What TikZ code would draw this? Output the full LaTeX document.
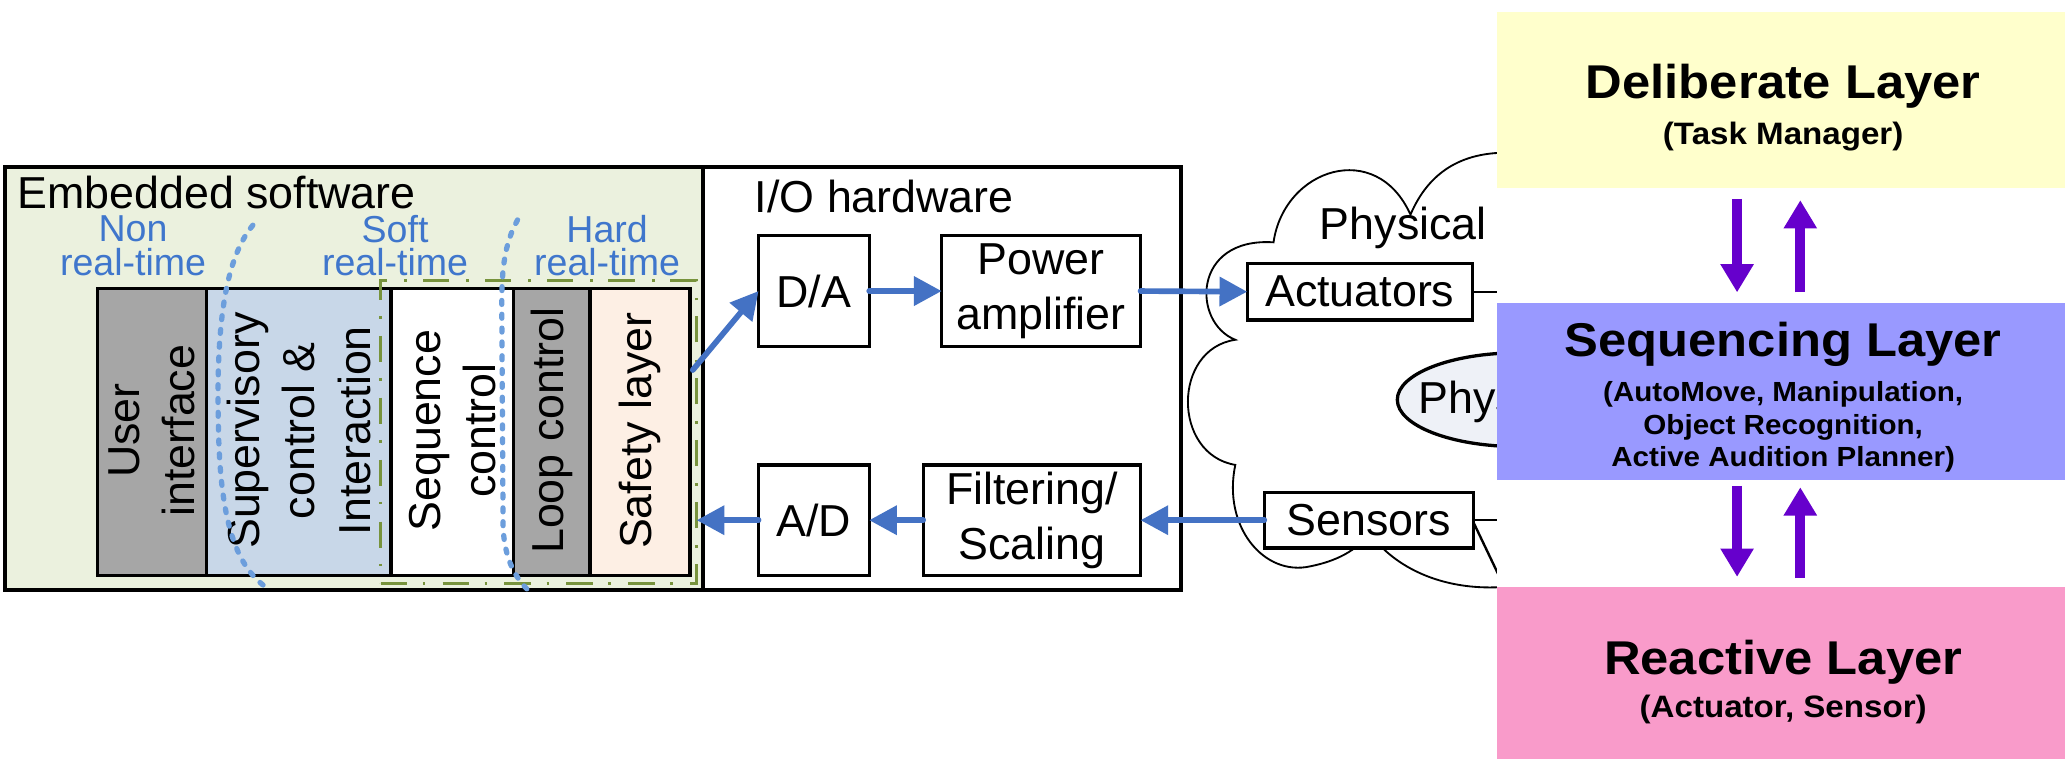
\documentclass[tikz,border=0pt]{standalone}
\usepackage{fontspec}
\setmainfont{Liberation Sans}
\newfontfamily\rpfont[FakeStretch=1.07]{Liberation Sans}
\usetikzlibrary{arrows.meta,calc}
\definecolor{embfill}{HTML}{EBF1DE}
\definecolor{stripgray}{HTML}{A6A6A6}
\definecolor{supfill}{HTML}{C8D7E8}
\definecolor{safefill}{HTML}{FDEFE4}
\definecolor{labelblue}{HTML}{3F76CC}
\definecolor{arrowblue}{HTML}{4472C4}
\definecolor{dotblue}{HTML}{6C9EDC}
\definecolor{hardgreen}{HTML}{77933C}
\definecolor{ellfill}{HTML}{EEF1F7}
\definecolor{delibfill}{HTML}{FFFFCC}
\definecolor{seqfill}{HTML}{9999FF}
\definecolor{reafill}{HTML}{F99BCA}
\definecolor{arrowpurple}{HTML}{6600CC}
\newcommand{\fntL}{\fontsize{34}{42}\selectfont}
\newcommand{\fntBlue}{\fontsize{28.5}{25.5}\selectfont}
\newcommand{\fntTitle}{\rpfont\bfseries\fontsize{36}{40}\selectfont}
\newcommand{\fntSub}{\rpfont\bfseries\fontsize{23.5}{26}\selectfont}
\newcommand{\fntSmall}{\rpfont\bfseries\fontsize{21}{24.5}\selectfont}
\begin{document}
\begin{tikzpicture}[x=1pt,y=-1pt,
  frame/.style={draw=black, line width=2.8pt, inner sep=0pt, outer sep=0pt},
  strip/.style={draw=black, line width=2.5pt, inner sep=0pt, outer sep=0pt, minimum height=218pt},
  striptext/.style={rotate=90, align=center, font=\fntL, inner sep=0pt},
  iobox/.style={draw=black, line width=2.5pt, fill=white, inner sep=0pt, outer sep=0pt, align=center, font=\fntL, minimum height=84pt},
  plaintext/.style={anchor=base west, font=\fntL, inner sep=0pt},
  bluelbl/.style={text=labelblue, align=center, font=\fntBlue, inner sep=0pt},
  barrow/.style={draw=arrowblue, line width=4.3pt, line cap=round, -{Triangle[length=21pt,width=21.5pt]}},
  rtline/.style={draw=dotblue, line width=4pt, line cap=round, dash pattern=on 3pt off 7.5pt},
  hardbox/.style={draw=hardgreen, line width=2.5pt, dash pattern=on 20pt off 12pt on 2pt off 13pt, inner sep=0pt, outer sep=0pt, minimum width=240pt, minimum height=230pt},
  cloudline/.style={draw=black, line width=1.4pt},
  stub/.style={draw=black, line width=1.8pt},
  layer/.style={inner sep=0pt, outer sep=0pt, minimum width=431pt},
  parrow/.style={draw=arrowpurple, line width=7.6pt, -{Triangle[length=21.5pt,width=24pt]}},
  ltitle/.style={anchor=base, font=\fntTitle, inner sep=0pt},
  lsub/.style={anchor=base, font=\fntSub, inner sep=0pt},
  lsmall/.style={anchor=base, font=\fntSmall, inner sep=0pt}
]
\fill[white] (0,0) rectangle (1568,576);
\useasboundingbox (0,0) rectangle (1568,576);

% outer boxes
\node[frame, fill=embfill, minimum width=530pt, minimum height=321pt] (emb) at (269,287.5) {};
\node[frame, fill=white, minimum width=363pt, minimum height=321pt] (io) at (715.5,287.5) {};
\node[plaintext] (embl) at (13,158) {Embedded software};
\node[plaintext] (iol) at (573,161) {I/O hardware};

% real-time labels
\node[bluelbl] (nonrt) at (101,186.5) {Non\\real-time};
\node[bluelbl] (softrt) at (300,186.5) {Soft\\real-time};
\node[bluelbl] (hardrt) at (461,186.5) {Hard\\real-time};

% software strips
\node[strip, fill=stripgray, minimum width=83pt] (ui) at (115.5,328) {};
\node[strip, fill=supfill, minimum width=140pt] (sup) at (227,328) {};
\node[strip, fill=white, minimum width=93pt] (seq) at (343.5,328) {};
\node[strip, fill=stripgray, minimum width=58pt] (loop) at (419,328) {};
\node[strip, fill=safefill, minimum width=76pt] (safe) at (486,328) {};
\node[striptext] (uit) at (115.5,327) {User\\interface};
\node[striptext] (supt) at (227,327) {Supervisory\\control \&\\Interaction};
\node[striptext] (seqtx) at (343.5,327) {Sequence\\control};
\node[striptext] (loopt) at (419,327) {Loop control};
\node[striptext] (safet) at (486,327) {Safety layer};

% hard real-time region and boundaries
\node[hardbox] (hrt) at (409,328) {};
\draw[rtline] (192,171) .. controls (168,200) and (164,260) .. (166,330) .. controls (168,410) and (185,435) .. (205,448);
\draw[rtline] (393,167) .. controls (383,185) and (381,205) .. (381,230) -- (382,400) .. controls (383,425) and (392,440) .. (402,449);

% I/O hardware
\node[iobox, minimum width=84pt] (da) at (618,221) {D/A};
\node[iobox, minimum width=151pt] (pa) at (790.5,221) {Power\\amplifier};
\node[iobox, minimum width=84pt] (ad) at (618,395) {A/D};
\node[iobox, minimum width=165pt] (filt) at (783.5,395) {Filtering/\\Scaling};

% physical cloud (cut by the layer panel)
\begin{scope}
\clip (898,0) rectangle (1137,576);
\draw[cloudline] (938,258) .. controls (905,245) and (905,180) .. (967,184)
  .. controls (975,128) and (1045,105) .. (1071,163)
  .. controls (1085,130) and (1110,117) .. (1140,116)
  .. controls (1200,115) and (1230,200) .. (1220,300)
  .. controls (1212,400) and (1180,446) .. (1135,446)
  .. controls (1095,447) and (1060,432) .. (1040,405)
  .. controls (1030,418) and (1015,426) .. (995,430)
  .. controls (960,438) and (928,400) .. (938,353)
  .. controls (890,345) and (890,265) .. (938,258) -- cycle;
\draw[line width=2.5pt, fill=ellfill] (1153,303.5) ellipse [x radius=92pt, y radius=35.6pt];
\node[plaintext] (phys) at (1002,182) {Physical};
\node[plaintext] (physell) at (1077,314) {Physical};
\node[iobox, minimum width=171pt, minimum height=43pt] (act) at (1032.5,221.5) {Actuators};
\node[iobox, minimum width=159pt, minimum height=42pt] (sen) at (1039.5,395) {Sensors};
\coordinate (actend) at (1145,221.5);
\coordinate (senend) at (1145,395);
\coordinate (sendiag) at (1140,441);
\draw[stub] (act.east) -- (actend);
\draw[stub] (sen.east) -- (senend);
\draw[stub] ($(sen.east)+(0,2)$) -- (sendiag);
\end{scope}

% signal arrows
\draw[barrow] ($(safe.east)+(2,-47)$) -- (da.west);
\draw[barrow] (da.east) -- (pa.west);
\draw[barrow] (pa.east) -- (act.west);
\draw[barrow] (sen.west) -- (filt.east);
\draw[barrow] (filt.west) -- (ad.east);
\draw[barrow] (ad.west) -- (ad.west -| hrt.east);

% layer panel
\fill[white] (1137,0) rectangle (1568,576);
\node[layer, fill=delibfill, minimum height=134pt] (delib) at (1352.5,76) {};
\node[layer, fill=seqfill, minimum height=134.5pt] (seqly) at (1352.5,297.25) {};
\node[layer, fill=reafill, minimum height=130pt] (rea) at (1352.5,511) {};
\node[ltitle] (delibt) at (1354,75) {Deliberate Layer};
\node[lsub] (delibs) at (1354,110) {(Task Manager)};
\node[ltitle] (seqtitle) at (1354,271) {Sequencing Layer};
\node[lsmall] (seqs1) at (1354,305) {(AutoMove, Manipulation,};
\node[lsmall] (seqs2) at (1354,330) {Object Recognition,};
\node[lsmall] (seqs3) at (1354,354) {Active Audition Planner)};
\node[ltitle] (reat) at (1354,512.5) {Reactive Layer};
\node[lsub] (reas) at (1354,545) {(Actuator, Sensor)};

\draw[parrow] ($(delib.south)+(-33.5,8)$) -- ($(seqly.north)+(-33.5,-8)$);
\draw[parrow] ($(seqly.north)+(14.5,-8)$) -- ($(delib.south)+(14.5,9)$);
\draw[parrow] ($(seqly.south)+(-33.5,4.5)$) -- ($(rea.north)+(-33.5,-8)$);
\draw[parrow] ($(rea.north)+(14.5,-7)$) -- ($(seqly.south)+(14.5,5.5)$);
\end{tikzpicture}
\end{document}
